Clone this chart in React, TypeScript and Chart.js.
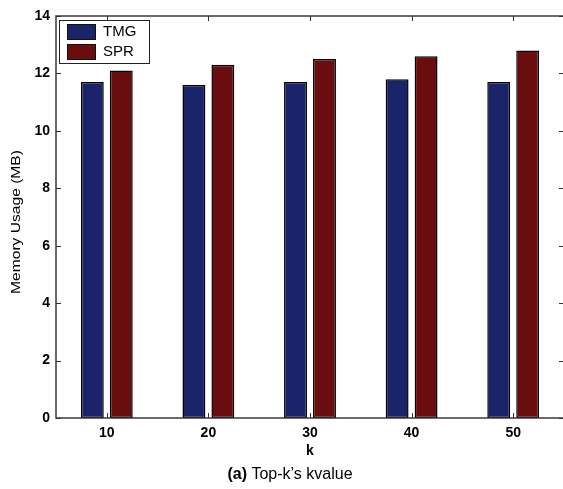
import React, { useEffect, useRef } from "react";
import { Chart, registerables } from "chart.js";

Chart.register(...registerables);

const categories = ["10", "20", "30", "40", "50"];
const tmgValues = [11.7, 11.6, 11.7, 11.8, 11.7];
const sprValues = [12.1, 12.3, 12.5, 12.6, 12.8];
const yTicks = [0, 2, 4, 6, 8, 10, 12, 14];
const seriesNames = ["TMG", "SPR"];
const seriesColors = ["#1b246a", "#6a0d0f"];

const FONT = "'Liberation Sans', Arial, Helvetica, sans-serif";

const framePlugin = {
  id: "framePlugin",
  afterDraw(chart: any) {
    const { ctx, chartArea } = chart;
    const { left, right, top, bottom } = chartArea;
    const xs = chart.scales.x;
    const ys = chart.scales.y;
    ctx.save();
    // frame
    ctx.strokeStyle = "#3a3a3a";
    ctx.lineWidth = 1.5;
    ctx.strokeRect(left, top, right - left, bottom - top);
    // inward ticks
    ctx.lineWidth = 1;
    ctx.strokeStyle = "#333";
    ctx.beginPath();
    yTicks.forEach((v) => {
      const py = Math.round(ys.getPixelForValue(v)) + 0.5;
      ctx.moveTo(left, py);
      ctx.lineTo(left + 5, py);
      ctx.moveTo(right, py);
      ctx.lineTo(right - 5, py);
    });
    categories.forEach((_, i) => {
      const px = Math.round(xs.getPixelForValue(i)) + 0.5;
      ctx.moveTo(px, bottom);
      ctx.lineTo(px, bottom - 5);
      ctx.moveTo(px, top);
      ctx.lineTo(px, top + 5);
    });
    ctx.stroke();

    // legend box
    const lx = left + 3;
    const ly = top + 4;
    const lw = 90;
    const lh = 43;
    ctx.fillStyle = "#fff";
    ctx.fillRect(lx, ly, lw, lh);
    ctx.strokeStyle = "#222";
    ctx.lineWidth = 1;
    ctx.strokeRect(lx + 0.5, ly + 0.5, lw, lh);
    chart.data.datasets.forEach((ds: any, i: number) => {
      const sy = ly + 4 + i * 20;
      ctx.fillStyle = ds.backgroundColor;
      ctx.fillRect(lx + 8, sy, 28, 15);
      ctx.strokeStyle = "#111";
      ctx.strokeRect(lx + 8.5, sy + 0.5, 28, 15);
      ctx.fillStyle = "#000";
      ctx.font = `15px ${FONT}`;
      ctx.textAlign = "left";
      ctx.textBaseline = "middle";
      ctx.fillText(ds.label, lx + 44, sy + 8);
    });

    // y axis title (slightly stretched along its length)
    ctx.save();
    ctx.translate(16, (top + bottom) / 2 + 5);
    ctx.rotate(-Math.PI / 2);
    ctx.scale(1.2, 1);
    ctx.font = `13px ${FONT}`;
    ctx.fillStyle = "#000";
    ctx.textAlign = "center";
    ctx.textBaseline = "middle";
    ctx.fillText("Memory Usage (MB)", 0, 0);
    ctx.restore();

    // caption
    const boldPart = "(a)";
    const rest = " Top-k\u2019s kvalue";
    ctx.font = `bold 16px ${FONT}`;
    const wb = ctx.measureText(boldPart).width;
    ctx.font = `16px ${FONT}`;
    const wr = ctx.measureText(rest).width;
    const cx = 290;
    const startX = cx - (wb + wr) / 2;
    const cy = 475;
    ctx.fillStyle = "#000";
    ctx.textAlign = "left";
    ctx.textBaseline = "middle";
    ctx.font = `bold 16px ${FONT}`;
    ctx.fillText(boldPart, startX, cy);
    ctx.font = `16px ${FONT}`;
    ctx.fillText(rest, startX + wb, cy);
    ctx.restore();
  },
};

export default function App() {
  const canvasRef = useRef<HTMLCanvasElement | null>(null);

  useEffect(() => {
    if (!canvasRef.current) return;
    const chart = new Chart(canvasRef.current, {
      type: "bar",
      data: {
        labels: categories,
        datasets: [
          {
            label: seriesNames[0],
            data: tmgValues,
            backgroundColor: seriesColors[0],
            borderColor: "#000",
            borderWidth: 1.5,
            borderSkipped: false,
            categoryPercentage: 0.57,
            barPercentage: 0.79,
          },
          {
            label: seriesNames[1],
            data: sprValues,
            backgroundColor: seriesColors[1],
            borderColor: "#000",
            borderWidth: 1.5,
            borderSkipped: false,
            categoryPercentage: 0.57,
            barPercentage: 0.79,
          },
        ],
      },
      options: {
        responsive: false,
        animation: false,
        devicePixelRatio: 1,
        layout: { padding: { left: 0, right: 2, top: 16, bottom: 29 } },
        plugins: {
          legend: { display: false },
          tooltip: { enabled: false },
          title: { display: false },
        },
        scales: {
          x: {
            grid: { display: false, drawTicks: false },
            border: { display: false },
            ticks: {
              color: "#000",
              padding: 7,
              font: { family: FONT, size: 14, weight: "bold" },
            },
            title: {
              display: true,
              text: "k",
              color: "#000",
              font: { family: FONT, size: 14, weight: "bold" },
              padding: { top: 0, bottom: 0 },
            },
            afterFit: (s: any) => {
              s.height = 42;
            },
          },
          y: {
            min: 0,
            max: 14,
            grid: { display: false, drawTicks: false },
            border: { display: false },
            ticks: {
              stepSize: 2,
              color: "#000",
              padding: 6,
              font: { family: FONT, size: 14, weight: "bold" },
            },
            afterFit: (s: any) => {
              s.width = 56;
            },
          },
        },
      },
      plugins: [framePlugin],
    });
    return () => chart.destroy();
  }, []);

  return (
    <div
      style={{
        position: "absolute",
        left: 0,
        top: 0,
        width: 563,
        height: 489,
        overflow: "hidden",
        background: "#fff",
      }}
    >
      <canvas ref={canvasRef} width={566} height={489} style={{ display: "block" }} />
    </div>
  );
}
